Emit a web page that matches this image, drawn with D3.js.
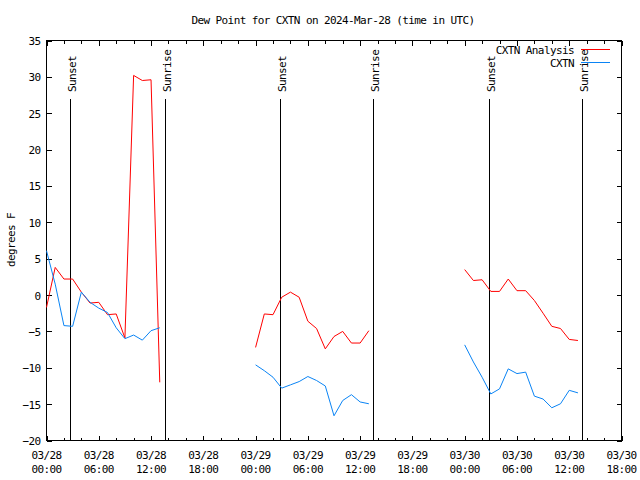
<!DOCTYPE html>
<html>
<head>
<meta charset="utf-8">
<script src="https://cdn.jsdelivr.net/npm/d3@7"></script>
<style>
  html, body { margin: 0; padding: 0; background: #fff; }
  svg { display: block; }
  text { font-family: "DejaVu Sans Mono", monospace; font-size: 11px; letter-spacing: -0.6px; fill: #000; }
</style>
</head>
<body>
<svg id="chart" width="640" height="480"></svg>
<script>
// ---- data ----
const titleText = "Dew Point for CXTN on 2024-Mar-28 (time in UTC)";
const yLabel = "degrees F";
// hours since 2024-03-28 00:00 UTC
const hours = [0,1,2,3,4,5,6,7,8,9,10,11,12,13,
               24,25,26,27,28,29,30,31,32,33,34,35,36,37,
               48,49,50,51,52,53,54,55,56,57,58,59,60,61];
const analysis = [-1.7,3.8,2.2,2.2,0.4,-1.1,-1.0,-2.7,-2.6,-5.9,30.2,29.5,29.6,-12.0,
                  -7.2,-2.6,-2.7,-0.3,0.4,-0.3,-3.6,-4.6,-7.4,-5.7,-5.0,-6.6,-6.6,-4.9,
                  3.5,2.0,2.1,0.5,0.5,2.2,0.6,0.6,-0.75,-2.5,-4.3,-4.6,-6.1,-6.25];
const observed = [6.1,1.5,-4.2,-4.3,0.4,-1.0,-1.8,-2.4,-4.5,-6.0,-5.5,-6.2,-4.9,-4.5,
                  -9.6,-10.4,-11.3,-12.8,-12.35,-11.9,-11.2,-11.75,-12.5,-16.6,-14.5,-13.7,-14.7,-14.95,
                  -6.85,-9.2,-11.3,-13.6,-12.9,-10.15,-10.8,-10.6,-13.9,-14.3,-15.5,-14.95,-13.1,-13.45];
const seriesNames = ["CXTN Analysis", "CXTN"];
const seriesColors = ["#ff0000", "#0a84f5"];
const sunEventHours = [2.79, 13.69, 26.88, 37.55, 50.86, 61.53];
const sunEventLabels = ["Sunset","Sunrise","Sunset","Sunrise","Sunset","Sunrise"];
const xMajorTicks = [0,6,12,18,24,30,36,42,48,54,60,66];
const xTickDates = ["03/28","03/28","03/28","03/28","03/29","03/29","03/29","03/29","03/30","03/30","03/30","03/30"];
const xTickTimes = ["00:00","06:00","12:00","18:00","00:00","06:00","12:00","18:00","00:00","06:00","12:00","18:00"];
const xMinorTicks = [2,4,8,10,14,16,20,22,26,28,32,34,38,40,44,46,50,52,56,58,62,64];
const yTicks = [-20,-15,-10,-5,0,5,10,15,20,25,30,35];

// ---- layout ----
const L = 46.5, R = 621.5, T = 40.5, B = 440.5;
const svg = d3.select("#chart");
const x = d3.scaleLinear().domain([0, 66]).range([L, R]);
const y = d3.scaleLinear().domain([-20, 35]).range([B, T]);

// title
svg.append("text").attr("x", 333).attr("y", 24).attr("text-anchor", "middle").text(titleText);

// axes (ticks inward)
const gL = svg.append("g").attr("transform", `translate(${L},0)`)
  .call(d3.axisLeft(y).tickValues(yTicks).tickSize(-5).tickPadding(6).tickFormat(d3.format("d")));
const gR = svg.append("g").attr("transform", `translate(${R},0)`)
  .call(d3.axisRight(y).tickValues(yTicks).tickSize(-5).tickFormat(""));
const gB = svg.append("g").attr("transform", `translate(0,${B})`)
  .call(d3.axisBottom(x).tickValues(xMajorTicks).tickSize(-5).tickFormat(""));
const gBm = svg.append("g").attr("transform", `translate(0,${B})`)
  .call(d3.axisBottom(x).tickValues(xMinorTicks).tickSize(-3).tickFormat(""));
const gT = svg.append("g").attr("transform", `translate(0,${T})`)
  .call(d3.axisTop(x).tickValues(xMajorTicks).tickSize(-5).tickFormat(""));
const gTm = svg.append("g").attr("transform", `translate(0,${T})`)
  .call(d3.axisTop(x).tickValues(xMinorTicks).tickSize(-3).tickFormat(""));
[gL, gR, gB, gBm, gT, gTm].forEach(g => {
  g.select(".domain").remove();
  g.selectAll("line").attr("stroke", "#000").attr("shape-rendering", "crispEdges");
  g.selectAll("text").attr("font-family", null).attr("font-size", null).attr("fill", "#000");
});
gL.selectAll("text").attr("dy", null).attr("y", 4);

// x tick labels (two lines)
const xl = svg.append("g");
xMajorTicks.forEach((h, i) => {
  const t = xl.append("text").attr("text-anchor", "middle");
  t.append("tspan").attr("x", x(h)).attr("y", 459).text(xTickDates[i]);
  t.append("tspan").attr("x", x(h)).attr("y", 473).text(xTickTimes[i]);
});

// frame
svg.append("rect").attr("x", L).attr("y", T).attr("width", R - L).attr("height", B - T)
  .attr("fill", "none").attr("stroke", "#000").attr("shape-rendering", "crispEdges");

// y label
svg.append("text").attr("transform", "translate(15,240) rotate(-90)")
  .attr("text-anchor", "middle").text(yLabel);

// sunrise / sunset
sunEventHours.forEach((h, i) => {
  const px = Math.round(x(h) - 0.5) + 0.5;
  svg.append("line").attr("x1", px).attr("x2", px).attr("y1", 99).attr("y2", B)
    .attr("stroke", "#000").attr("shape-rendering", "crispEdges");
  svg.append("text").attr("transform", `translate(${px + 5.5},92) rotate(-90)`)
    .attr("text-anchor", "start").text(sunEventLabels[i]);
});

// series
function segments(vals) {
  const segs = [];
  let cur = [];
  hours.forEach((h, i) => {
    if (i > 0 && h - hours[i - 1] > 1) { segs.push(cur); cur = []; }
    cur.push([h, vals[i]]);
  });
  segs.push(cur);
  return segs;
}
const line = d3.line().x(d => x(d[0])).y(d => y(d[1]));
[analysis, observed].forEach((vals, si) => {
  segments(vals).forEach(seg => {
    svg.append("path").attr("d", line(seg)).attr("fill", "none")
      .attr("stroke", seriesColors[si]).attr("stroke-width", 1);
  });
});

// legend
const legY = [50, 63];
seriesNames.forEach((n, i) => {
  svg.append("text").attr("x", 574).attr("y", legY[i] + 4).attr("text-anchor", "end").text(n);
  svg.append("line").attr("x1", 581).attr("x2", 610).attr("y1", legY[i] - 0.5).attr("y2", legY[i] - 0.5)
    .attr("stroke", seriesColors[i]).attr("shape-rendering", "crispEdges");
});
</script>
</body>
</html>
